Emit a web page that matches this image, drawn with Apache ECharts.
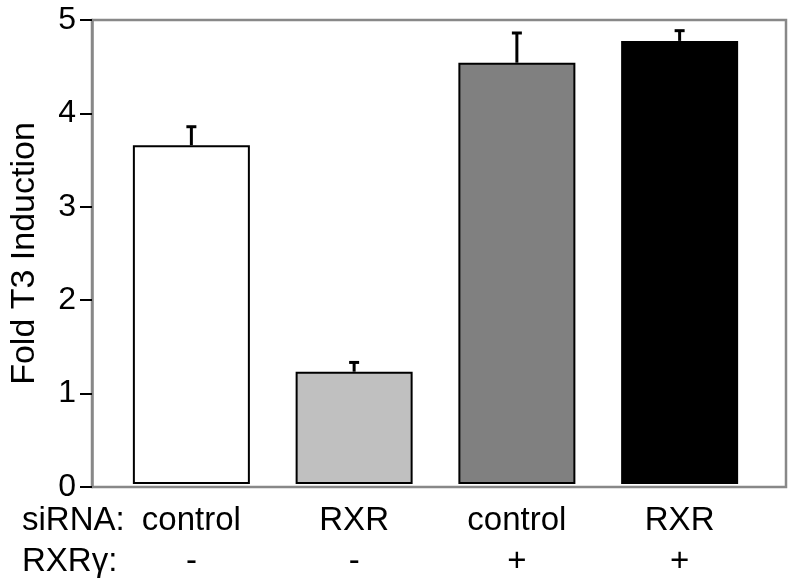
<!DOCTYPE html>
<html>
<head>
<meta charset="utf-8">
<script src="https://cdn.jsdelivr.net/npm/echarts@6/dist/echarts.min.js"></script>
<style>html,body{margin:0;padding:0;background:#fff}#c{width:800px;height:582px}</style>
</head>
<body>
<div id="c"></div>
<script>
const siRNA = ['control', 'RXR', 'control', 'RXR'];
const rxrGamma = ['-', '-', '+', '+'];
const values = [3.65, 1.21, 4.54, 4.775];
const errors = [0.20, 0.10, 0.32, 0.11];
const barColors = ['#ffffff', '#c0c0c0', '#808080', '#000000'];
const yTicks = [0, 1, 2, 3, 4, 5];

const FONT = '"Liberation Sans", Arial, sans-serif';
const chart = echarts.init(document.getElementById('c'), null, {renderer: 'canvas'});
const categories = siRNA.map((s, i) => s + '\n' + rxrGamma[i]);

chart.setOption({
  animation: false,
  backgroundColor: '#fff',
  grid: [
    {left: 110, right: 39, top: 20, bottom: 95, show: false},
    {left: 87, right: 14, top: 20, bottom: 95, show: true, borderColor: '#888', borderWidth: 2.5, backgroundColor: 'transparent', z: 0}
  ],
  xAxis: [
    {gridIndex: 0, type: 'category', data: categories,
     axisLine: {show: false}, axisTick: {show: false},
     axisLabel: {color: '#000', fontSize: 33, fontFamily: FONT, lineHeight: 41, margin: 16}},
    {gridIndex: 1, type: 'value', min: 0, max: 1, show: false}
  ],
  yAxis: [
    {gridIndex: 0, type: 'value', min: 0, max: 5, interval: 1, show: false},
    {gridIndex: 1, type: 'value', min: yTicks[0], max: yTicks[yTicks.length - 1], interval: 1,
     name: 'Fold T3 Induction', nameLocation: 'middle', nameGap: 50,
     nameTextStyle: {color: '#000', fontSize: 34, fontFamily: FONT},
     axisLine: {show: true, lineStyle: {color: '#888', width: 2.5}},
     axisTick: {show: true, length: 12, lineStyle: {color: '#000', width: 2}},
     axisLabel: {color: '#000', fontSize: 32, fontFamily: FONT, margin: 16},
     splitLine: {show: false}}
  ],
  series: [
    {type: 'bar', xAxisIndex: 0, yAxisIndex: 0, barWidth: 117, z: 2,
     data: values.map((v, i) => ({value: v, itemStyle: {color: barColors[i], borderColor: '#000', borderWidth: 2}}))},
    {type: 'custom', xAxisIndex: 0, yAxisIndex: 0, z: 3,
     data: values.map((v, i) => [i, v, v + errors[i]]),
     renderItem: function (params, api) {
       const lo = api.coord([api.value(0), api.value(1)]);
       const hi = api.coord([api.value(0), api.value(2)]);
       const cap = 5;
       return {type: 'group', children: [
         {type: 'line', shape: {x1: lo[0], y1: lo[1], x2: hi[0], y2: hi[1]}, style: {stroke: '#000', lineWidth: 3}},
         {type: 'line', shape: {x1: hi[0] - cap, y1: hi[1], x2: hi[0] + cap, y2: hi[1]}, style: {stroke: '#000', lineWidth: 3}}
       ]};
     }}
  ],
  graphic: [
    {type: 'text', left: 22, top: 504, style: {text: 'siRNA:', fill: '#000', font: '33px ' + FONT}},
    {type: 'text', left: 22, top: 545, style: {text: 'RXRγ:', fill: '#000', font: '33px ' + FONT}}
  ]
});
</script>
</body>
</html>
